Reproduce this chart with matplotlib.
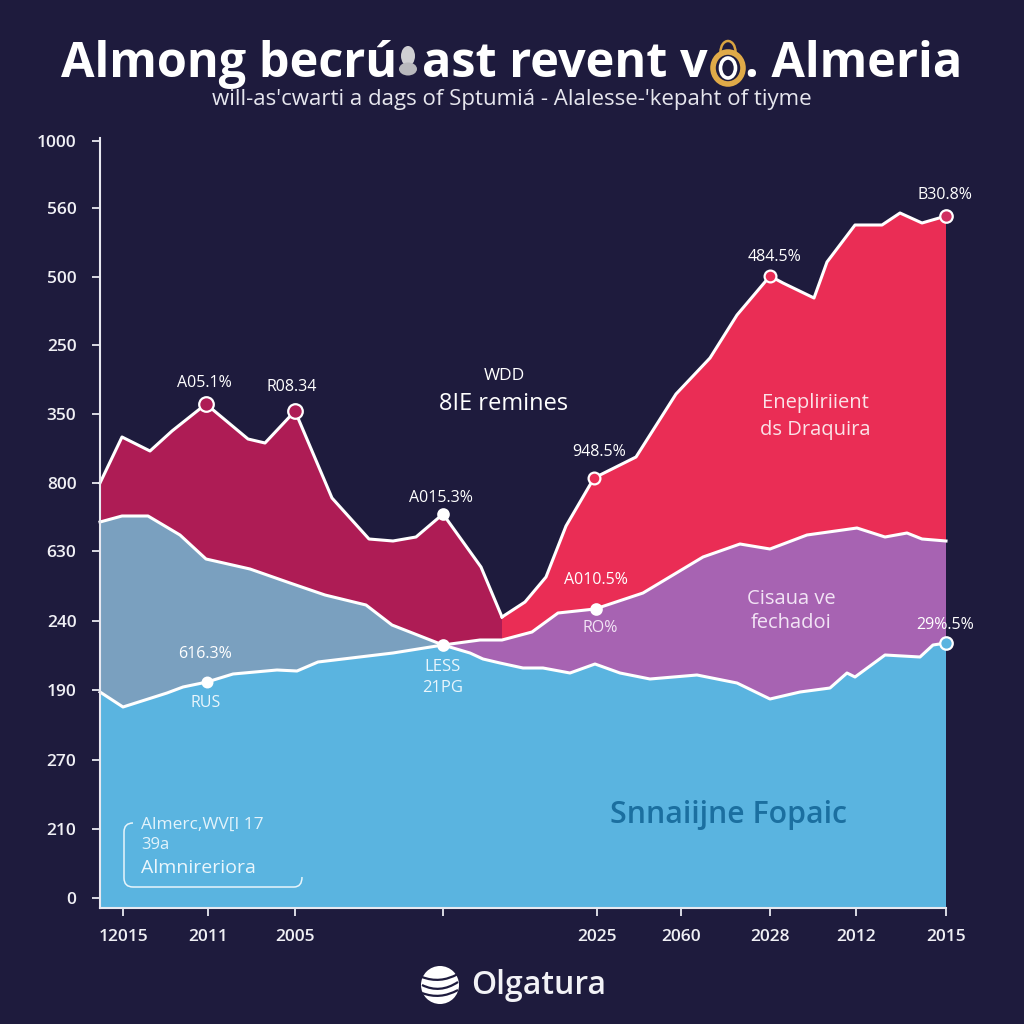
import numpy as np
import matplotlib
matplotlib.use("Agg")
import matplotlib.pyplot as plt
from matplotlib.patches import Ellipse, Circle, PathPatch
from matplotlib.path import Path

plt.rcParams['font.family'] = ['Open Sans', 'DejaVu Sans']

BG = '#1e1b3d'
BLUE = '#5ab4e0'
GRAY = '#7aa0bf'
WINE = '#ae1c55'
RED = '#ea2d55'
PURPLE = '#a763b2'
WHITE = '#ffffff'

# series (x position along axis, height on axis scale)
wine_x = [0, 22, 50, 72, 106, 148, 165, 195, 232, 269, 293, 316, 343, 381, 402]
wine_y = [415, 461, 447, 467, 494, 459, 455, 487, 400, 359, 357, 361, 384, 331, 281]
red_x = [402, 425, 446, 466, 494, 536, 576, 610, 637, 670, 683, 714, 727, 755, 782, 800, 822, 846]
red_y = [281, 296, 321, 372, 420, 441, 504, 540, 583, 622, 615, 600, 636, 673, 673, 685, 675, 682]
gray_x = [0, 22, 48, 80, 106, 150, 190, 225, 266, 292, 343]
gray_y = [376, 382, 382, 363, 339, 329, 315, 303, 293, 273, 253]
purple_x = [343, 380, 402, 432, 458, 495, 543, 603, 640, 670, 707, 757, 785, 807, 822, 846]
purple_y = [253, 258, 258, 266, 285, 289, 305, 341, 354, 349, 363, 370, 361, 365, 359, 357]
blue_x = [0, 23, 67, 83, 107, 133, 177, 197, 218, 293, 343, 370, 383, 400, 423, 443, 470, 495,
          520, 550, 597, 637, 670, 700, 730, 747, 755, 785, 820, 833, 846]
blue_y = [206, 191, 205, 211, 216, 224, 228, 227, 236, 245, 253, 245, 239, 235, 230, 230, 225, 234,
          225, 219, 223, 215, 199, 206, 210, 225, 221, 243, 241, 253, 255]

y_ticks = [0, 69, 138, 208, 277, 347, 415, 484, 553, 621, 690, 757]
y_labels = ['0', '210', '270', '190', '240', '630', '800', '350', '250', '500', '560', '1000']
x_ticks = [23, 108, 195, 343, 497, 581, 670, 756, 846]
x_labels = ['12015', '2011', '2005', '', '2025', '2060', '2028', '2012', '2015']

# (x, y, text, label x, label y, marker face, marker size)
points = [
    (106, 494, 'A05.1%', 104, 515, WINE, 10.5),
    (195, 487, 'R08.34', 192, 511, WINE, 10.5),
    (343, 384, 'A015.3%', 341, 400, WHITE, 7.5),
    (494, 420, '948.5%', 499, 446, RED, 8.5),
    (670, 622, '484.5%', 675, 641, RED, 8.5),
    (846, 682, 'B30.8%', 845, 703, '#d03060', 9),
    (496, 289, 'A010.5%', 496, 318, WHITE, 7.5),
    (107, 216, '616.3%', 105, 244, WHITE, 7),
    (343, 253, '', 343, 253, WHITE, 7.5),
    (846, 255, '29%.5%', 845, 273, BLUE, 9),
]

fig = plt.figure(figsize=(10.24, 10.24), dpi=100, facecolor=BG)
ax = fig.add_axes([100 / 1024, 1 - 908 / 1024, 846 / 1024, 770 / 1024], facecolor=BG)
ax.set_xlim(0, 846)
ax.set_ylim(-10, 760)

base = -10
ax.fill(blue_x + [846, 0], blue_y + [base, base], color=BLUE, lw=0, zorder=1)
i_blue = blue_x.index(343)
ax.fill(gray_x + blue_x[:i_blue + 1][::-1], gray_y + blue_y[:i_blue + 1][::-1], color=GRAY, lw=0, zorder=1)
ax.fill(purple_x + blue_x[i_blue:][::-1], purple_y + blue_y[i_blue:][::-1], color=PURPLE, lw=0, zorder=1)
i_pw = purple_x.index(402)
ax.fill(wine_x + purple_x[:i_pw + 1][::-1] + gray_x[::-1],
        wine_y + purple_y[:i_pw + 1][::-1] + gray_y[::-1], color=WINE, lw=0, zorder=1)
ax.fill(red_x + purple_x[i_pw:][::-1], red_y + purple_y[i_pw:][::-1], color=RED, lw=0, zorder=1)

for xs, ys in [(wine_x, wine_y), (red_x, red_y), (gray_x, gray_y), (purple_x, purple_y), (blue_x, blue_y)]:
    ax.plot(xs, ys, color=WHITE, lw=2.2, solid_joinstyle='round', zorder=3, clip_on=False)

for x, y, txt, lx, ly, face, ms in points:
    ax.plot([x], [y], 'o', ms=ms, mfc=face, mec=WHITE, mew=1.6, zorder=4, clip_on=False)
    if txt:
        ax.text(lx, ly, txt, color=WHITE, fontsize=11.5, fontweight='medium', ha='center', va='center', zorder=5)

# inline labels
labels = [
    (404, 522, 'WDD', 12.5, WHITE, 'medium'),
    (404, 494, '8IE remines', 17, WHITE, 'medium'),
    (715, 495, 'Enepliriient', 14.5, '#fbe3e8', 'medium'),
    (715, 468, 'ds Draquira', 14.5, '#fbe3e8', 'medium'),
    (691, 299, 'Cisaua ve', 14.5, '#f2e4f5', 'medium'),
    (691, 275, 'fechadoi', 14.5, '#f2e4f5', 'medium'),
    (106, 195, 'RUS', 11.5, '#eaf6fc', 'medium'),
    (343, 231, 'LESS', 12, '#eaf6fc', 'medium'),
    (343, 210, '21PG', 12, '#eaf6fc', 'medium'),
    (500, 270, 'RO%', 11.5, '#f2e4f5', 'medium'),
    (629, 83, 'Snnaiijne Fopaic', 21.8, '#1b6fa0', 'semibold'),
]
for x, y, txt, fs, col, w in labels:
    ax.text(x, y, txt, color=col, fontsize=fs, fontweight=w, ha='center', va='center', zorder=5)

# axes styling
for s in ['top', 'right']:
    ax.spines[s].set_visible(False)
for s in ['left', 'bottom']:
    ax.spines[s].set_color('#e8e8f0')
    ax.spines[s].set_linewidth(1.5)
    ax.spines[s].set_zorder(6)
ax.set_yticks(y_ticks)
ax.set_yticklabels(y_labels)
ax.set_xticks(x_ticks)
ax.set_xticklabels(x_labels)
ax.tick_params(axis='y', colors='#e8e8f0', length=6, width=1.3, pad=11, labelsize=12.5)
ax.tick_params(axis='x', colors='#e8e8f0', length=6, width=1.3, pad=9, labelsize=12.5)
for t in ax.get_xticklabels() + ax.get_yticklabels():
    t.set_fontweight('semibold')
    t.set_color('#f0f0f5')

# overlay in figure pixels for title, logo, legend
ov = fig.add_axes([0, 0, 1, 1], facecolor='none')
ov.set_xlim(0, 1024)
ov.set_ylim(1024, 0)
ov.axis('off')

for x, txt in [(61, 'Almong becrú'), (422, 'ast revent v'), (745, '. Almeria')]:
    ov.text(x, 77, txt, color=WHITE, fontsize=35, fontweight='bold', ha='left', va='baseline')
ov.text(512, 99, "will-as'cwarti a dags of Sptumiá - Alalesse-'kepaht of tiyme",
        color='#e6e6ee', fontsize=16, ha='center', va='center')

# title ornaments
ov.add_patch(Ellipse((408, 56), 14, 20, color='#cfcfd2', lw=0))
ov.add_patch(Ellipse((408, 69), 18, 13, color='#b9b9bd', lw=0))
ov.add_patch(Ellipse((728, 52), 15, 22, fill=False, ec='#d9a441', lw=1.8))
ov.add_patch(Ellipse((728, 68), 30, 32, fc=BG, ec='#e0aa48', lw=4))
ov.add_patch(Ellipse((728, 68), 15, 20, fill=False, ec=WHITE, lw=2.6))

# legend bracket
v = [(133, 823), (124, 823), (124, 832), (124, 878), (124, 887), (133, 887),
     (294, 887), (302, 887), (302, 877)]
c = [Path.MOVETO, Path.CURVE3, Path.CURVE3, Path.LINETO, Path.CURVE3, Path.CURVE3,
     Path.LINETO, Path.CURVE3, Path.CURVE3]
ov.add_patch(PathPatch(Path(v, c), fill=False, ec='#e8f5fb', lw=1.1))
ov.text(141, 825, 'Almerc,WV[I 17', color='#e3f3fb', fontsize=12.5, ha='left', va='center')
ov.text(141, 845, '39a', color='#e3f3fb', fontsize=12, fontweight='medium', ha='left', va='center')
ov.text(141, 868, 'Almnireriora', color='#eaf6fc', fontsize=14, fontweight='medium', ha='left', va='center')

# logo
ov.add_patch(Circle((440, 985), 19, color=WHITE, lw=0))
for dy, bend in [(-8, 7), (0, 9), (8, 7)]:
    ov.add_patch(PathPatch(Path([(422, 985 + dy), (440, 985 + dy + bend), (458, 985 + dy - 3)],
                                [Path.MOVETO, Path.CURVE3, Path.CURVE3]),
                           fill=False, ec=BG, lw=1.6))
ov.text(471, 986, 'Olgatura', color='#f2f2f6', fontsize=23, fontweight='semibold', ha='left', va='center')

fig.savefig('out.png', dpi=100, facecolor=BG)
